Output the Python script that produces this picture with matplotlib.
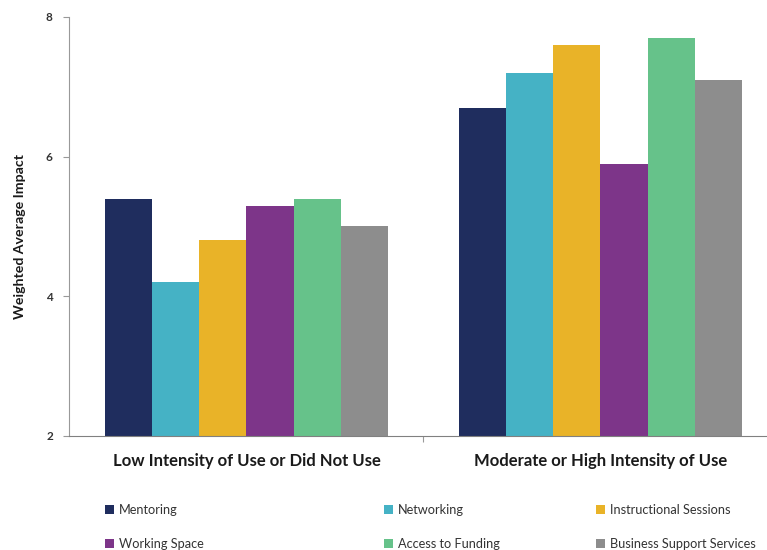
import matplotlib
matplotlib.use("Agg")
import matplotlib.pyplot as plt
import numpy as np

plt.rcParams['font.family'] = ['Lato', 'DejaVu Sans']

categories = ["Low Intensity of Use or Did Not Use", "Moderate or High Intensity of Use"]
services = ["Mentoring", "Networking", "Instructional Sessions",
            "Working Space", "Access to Funding", "Business Support Services"]
mentoring = [5.4, 6.7]
networking = [4.2, 7.2]
instructional = [4.8, 7.6]
working_space = [5.3, 5.9]
access_funding = [5.4, 7.7]
business_support = [5.0, 7.1]
y_ticks = [2, 4, 6, 8]

series = [mentoring, networking, instructional, working_space, access_funding, business_support]
colors = ["#1F2D5E", "#45B2C5", "#E9B328", "#7D3589", "#66C28A", "#8D8D8D"]

fig = plt.figure(figsize=(7.67, 5.5), dpi=100)
ax = fig.add_axes([0.0906, 0.2073, 0.923, 0.7618])

x = np.arange(len(categories))
bar_w = 0.8 / len(series)
handles = []
for i, (vals, col) in enumerate(zip(series, colors)):
    offs = (i - (len(series) - 1) / 2) * bar_w
    h = ax.bar(x + offs, np.array(vals) - 2, bar_w, bottom=2, color=col,
               label=services[i], linewidth=0)
    handles.append(h)

ax.set_xlim(-0.5, 1.5)
ax.set_ylim(2, 8)
ax.set_yticks(y_ticks)
ax.set_yticklabels([str(t) for t in y_ticks], fontsize=8.5, fontweight='bold', color='#333333')
ax.tick_params(axis='y', length=4, width=0.8, color='#999999', pad=8)

ax.set_xticks(x)
ax.set_xticklabels(categories, fontsize=12, fontweight='bold', color='#1a1a1a')
ax.tick_params(axis='x', which='major', length=0, pad=12)
ax.set_xticks([0.5], minor=True)
ax.tick_params(axis='x', which='minor', length=4, width=0.8, color='#999999')

for s in ['top', 'right']:
    ax.spines[s].set_visible(False)
ax.spines['left'].set_color('#999999')
ax.spines['bottom'].set_color('#808080')
ax.spines['left'].set_linewidth(0.8)
ax.spines['bottom'].set_linewidth(0.8)

ax.set_ylabel("Weighted Average Impact", fontsize=10.2, fontweight='bold', color='#1a1a1a')
ax.yaxis.set_label_coords(-0.062, 0.475)

# legend laid out as three columns of two entries each
col_x = [0.130, 0.494, 0.770]
for j in range(3):
    leg = fig.legend([handles[j], handles[j + 3]], [services[j], services[j + 3]],
                     loc='upper left', bbox_to_anchor=(col_x[j], 0.093),
                     frameon=False, fontsize=9.2, handlelength=0.7, handleheight=0.7,
                     handletextpad=0.4, labelspacing=1.7, borderaxespad=0)
    for t in leg.get_texts():
        t.set_color('#333333')

fig.savefig("out.png", dpi=100)
